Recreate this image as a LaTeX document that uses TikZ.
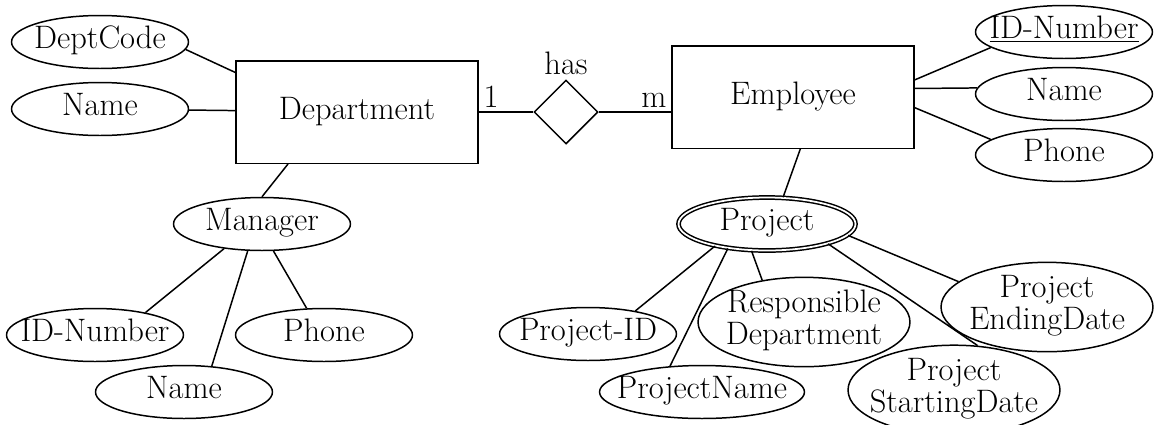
\documentclass[tikz,border=0pt]{standalone}
\usetikzlibrary{shapes.geometric,positioning}

% attribute text is allowed to run up to the ellipse border
\newcommand{\attrtext}[1]{\makebox[0pt]{\begin{tabular}{@{}c@{}}#1\end{tabular}}}

\begin{document}
\begin{tikzpicture}[x=0.02cm, y=-0.02cm, line width=0.85pt,
    every node/.style={font=\fontsize{18.5}{17.5}\selectfont}]
    \tikzstyle{entity} = [rectangle, draw, minimum width=4.84cm,
        minimum height=2.05cm]
    \tikzstyle{attr} = [ellipse, draw, inner sep=0pt, minimum width=3.54cm,
        minimum height=1.06cm]
    \tikzstyle{bigattr} = [attr, minimum width=4.24cm, minimum height=1.6cm]
    \tikzstyle{multiattr} = [attr, double, double distance=1pt]
    \tikzstyle{relation} = [diamond, draw, inner sep=0pt, minimum width=1.28cm,
        minimum height=1.28cm]
    \tikzstyle{card} = [inner sep=0pt]

    \useasboundingbox (0,0) rectangle (1157,424);

    % Department
    \node[entity] (dept) at (357,112) {Department};
    \node[attr] (deptcode) at (100,42) {\attrtext{DeptCode}};
    \node[attr] (deptname) at (100,109) {\attrtext{Name}};
    \draw (deptcode.-5) -- (dept.162);
    \draw (deptname) -- (dept);
    % Manager
    \node[attr] (manager) at (262,224) {\attrtext{Manager}};
    \node[attr] (mgrid) at (95,335) {\attrtext{ID-Number}};
    \node[attr] (mgrname) at (184,392) {\attrtext{Name}};
    \node[attr] (mgrphone) at (324,335) {\attrtext{Phone}};
    \draw (dept.217) -- (manager.north);
    \draw (manager.213) -- (mgrid.24);
    \draw (manager.242) -- (mgrname.43);
    \draw (manager.-67) -- (mgrphone.123);
    % Employee
    \node[entity] (emp) at (793,97) {Employee};
    \node[attr] (empid) at (1064,32) {\attrtext{\underline{ID-Number}}};
    \node[attr] (empname) at (1064,94) {\attrtext{Name}};
    \node[attr] (empphone) at (1064,155) {\attrtext{Phone}};
    \draw (emp.8) -- (empid.192);
    \draw (emp.4) -- (empname.176);
    \draw (emp.-5) -- (empphone.168);
    % has
    \node[relation] (has) at (566,112) {};
    \node (hastext) at (566,63) {has};
    \node[card] (one) at (491,97) {1};
    \node[card] (many) at (654,100) {m};
    \draw (dept) -- (has);
    \draw (has.east) -- (has.east -| emp.west);
    % Project
    \node[multiattr] (project) at (767,224) {\attrtext{Project}};
    \node[attr] (projid) at (588,334) {\attrtext{Project-ID}};
    \node[attr, minimum width=4.1cm] (projname) at (702,392)
        {\attrtext{ProjectName}};
    \node[bigattr] (respdept) at (804,322) {\attrtext{Responsible\\Department}};
    \node[bigattr] (startdate) at (954,390) {\attrtext{Project\\StartingDate}};
    \node[bigattr] (enddate) at (1047,307) {\attrtext{Project\\EndingDate}};
    \draw (emp.-82) -- (project.59);
    \draw (project.203) -- (projid.26);
    \draw (project.212) -- (projname.141);
    \draw (project.240) -- (respdept.135);
    \draw (project.-18) -- (startdate.62);
    \draw (project.-8) -- (enddate.164);
\end{tikzpicture}
\end{document}
